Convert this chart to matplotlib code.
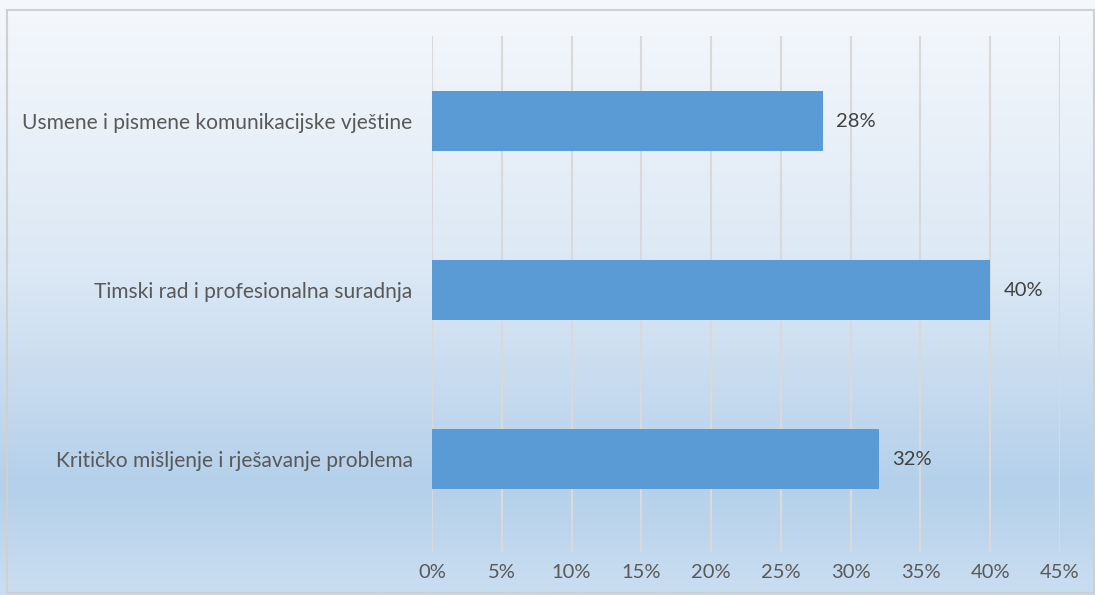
import matplotlib
matplotlib.use('Agg')
import matplotlib.pyplot as plt
import numpy as np
from matplotlib.colors import LinearSegmentedColormap
from matplotlib.patches import Rectangle
from matplotlib.ticker import FuncFormatter

categories = ['Kritičko mišljenje i rješavanje problema',
              'Timski rad i profesionalna suradnja',
              'Usmene i pismene komunikacijske vještine']
values = [32, 40, 28]
x_ticks = [0, 5, 10, 15, 20, 25, 30, 35, 40, 45]

plt.rcParams['font.family'] = ['Lato', 'DejaVu Sans']
text_color = '#595959'
bar_color = '#5B9BD5'
fs = 14.5

fig = plt.figure(figsize=(10.95, 5.95), dpi=100)

# gradient background (chart area)
bg = fig.add_axes([0, 0, 1, 1], zorder=-2)
grad_cmap = LinearSegmentedColormap.from_list(
    'bg', [(0.0, '#F5F8FC'), (0.45, '#DCE8F5'), (0.82, '#B4D0EA'), (1.0, '#CADEF1')])
grad = np.linspace(0, 1, 256).reshape(-1, 1)
bg.imshow(grad, aspect='auto', cmap=grad_cmap, extent=[0, 1, 0, 1], origin='upper')
bg.add_patch(Rectangle((7 / 1095, 2 / 595), 1 - 8 / 1095, 1 - 12 / 595,
                       fill=False, edgecolor='#D0D0D0', linewidth=1.5))
bg.set_xlim(0, 1)
bg.set_ylim(0, 1)
bg.axis('off')

ax = fig.add_axes([432 / 1095, 1 - 552 / 595, 628 / 1095, 516 / 595])
ax.patch.set_alpha(0)

y = np.arange(len(categories))
ax.barh(y, values, height=0.355, color=bar_color, zorder=3)

for yi, v in zip(y, values):
    ax.text(v + 0.95, yi, f'{v}%', va='center', ha='left', fontsize=fs, color='#404040')

ax.set_xlim(0, 45)
ax.set_ylim(-0.55, 2.503)
ax.set_xticks(x_ticks)
ax.xaxis.set_major_formatter(FuncFormatter(lambda v, p: f'{v:.0f}%'))
ax.set_yticks(y)
ax.set_yticklabels(categories)
ax.tick_params(axis='both', length=0, labelsize=fs, colors=text_color)
ax.tick_params(axis='y', labelsize=15.1)
ax.tick_params(axis='x', pad=9)
ax.tick_params(axis='y', pad=14)
ax.grid(axis='x', color='#D9D9D9', linewidth=1.5, zorder=0)
for s in ax.spines.values():
    s.set_visible(False)

fig.savefig('out.png', dpi=100)
